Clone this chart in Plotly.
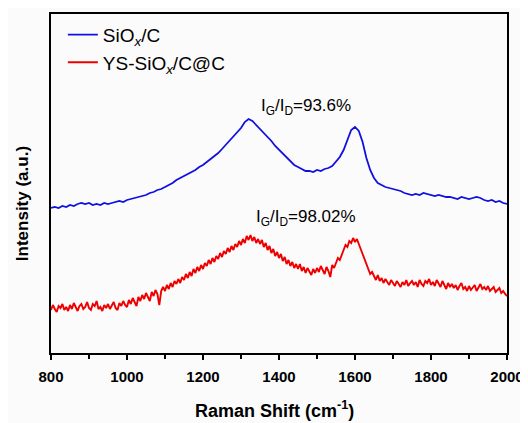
import plotly.graph_objects as go

# Raman shift grids (cm^-1)
shift_blue = list(range(800, 2001, 10))
shift_red = list(range(800, 2001, 5))

sio_c = [
    145, 146, 145, 147, 146, 148, 147, 149, 150, 149,
    150, 148, 149, 148, 150, 149, 150, 151, 152, 151,
    153, 154, 155, 156, 157, 158, 160, 161, 163, 164,
    166, 168, 170, 173, 175, 177, 179, 181, 183, 186,
    188, 191, 194, 197, 200, 204, 208, 212, 216, 220,
    225, 231, 234, 232, 228, 225, 221, 216, 212, 207,
    203, 199, 195, 191, 188, 186, 184, 182, 182, 181,
    183, 182, 184, 185, 187, 191, 196, 203, 214, 223,
    226, 222, 211, 195, 183, 175, 170, 168, 166, 165,
    164, 163, 162, 160, 159, 158, 159, 158, 160, 159,
    158, 157, 158, 157, 156, 156, 155, 154, 156, 155,
    154, 155, 156, 155, 153, 152, 153, 151, 152, 150,
    149,
]

ys_sio_c_c = [
    43, 48, 44, 41, 47, 45, 49, 43, 46, 42,
    48, 44, 50, 45, 42, 47, 49, 44, 46, 51,
    45, 43, 49, 47, 52, 44, 46, 42, 48, 45,
    49, 44, 47, 51, 45, 43, 50, 47, 52, 48,
    46, 53, 49, 55, 51, 47, 56, 52, 58, 54,
    60, 55, 52, 61, 57, 63, 59, 48, 62, 66,
    62, 68, 64, 70, 66, 72, 69, 74, 70, 76,
    73, 79, 75, 81, 77, 84, 80, 86, 82, 88,
    84, 90, 87, 93, 89, 95, 91, 97, 94, 100,
    96, 102, 99, 105, 101, 107, 103, 109, 106, 112,
    108, 114, 110, 117, 113, 118, 112, 116, 110, 114,
    109, 113, 106, 110, 103, 107, 100, 104, 97, 101,
    95, 99, 92, 96, 89, 93, 87, 91, 85, 89,
    84, 89, 82, 86, 80, 85, 81, 78, 84, 80,
    85, 81, 87, 83, 79, 86, 82, 76, 88, 85,
    91, 95, 93, 99, 103, 108, 106, 112, 110, 115,
    111, 114, 108, 104, 99, 94, 88, 84, 79, 81,
    76, 73, 78, 72, 75, 70, 74, 71, 68, 73,
    70, 67, 72, 69, 66, 71, 68, 73, 67, 70,
    72, 68, 71, 66, 73, 69, 67, 72, 70, 74,
    68, 71, 67, 73, 69, 66, 72, 68, 64, 70,
    66, 69, 65, 68, 63, 67, 70, 64, 66, 62,
    67, 63, 66, 68, 62, 65, 69, 64, 66, 63,
    67, 62, 64, 66, 61, 63, 65, 60, 62, 59,
    57,
]

x_ticks = [800, 1000, 1200, 1400, 1600, 1800, 2000]

FONT = "Liberation Sans, Arial, sans-serif"
BG = "#fbfbfb"

fig = go.Figure()
fig.add_trace(go.Scatter(
    x=shift_blue, y=sio_c, mode="lines",
    name="SiO<sub><i>x</i></sub>/C",
    line=dict(color="#1010e0", width=1.8),
))
fig.add_trace(go.Scatter(
    x=shift_red, y=ys_sio_c_c, mode="lines",
    name="YS-SiO<sub><i>x</i></sub>/C@C",
    line=dict(color="#ee0000", width=1.9),
))

fig.update_layout(
    width=520, height=415,
    margin=dict(l=43, r=21, t=6, b=70),
    paper_bgcolor=BG,
    plot_bgcolor=BG,
    font=dict(family=FONT, color="black"),
    showlegend=True,
    legend=dict(
        x=0.026, y=0.995, xanchor="left", yanchor="top",
        bgcolor="rgba(0,0,0,0)",
        font=dict(size=19, family=FONT),
        tracegroupgap=0,
    ),
    xaxis=dict(
        range=[800, 2000],
        tickvals=x_ticks,
        ticks="outside", ticklen=5, tickwidth=1.5, tickcolor="black",
        ticklabelstandoff=4,
        minor=dict(dtick=100, tick0=800, ticks="outside", ticklen=4,
                   tickwidth=1.5, tickcolor="black"),
        showline=True, linecolor="black", linewidth=2, mirror=True,
        showgrid=False, zeroline=False, automargin=False,
        tickfont=dict(size=15, family=FONT, weight="bold"),
    ),
    yaxis=dict(
        range=[0, 339],
        showticklabels=False, ticks="",
        showline=True, linecolor="black", linewidth=2, mirror=True,
        showgrid=False, zeroline=False, automargin=False,
    ),
    annotations=[
        dict(text="Raman Shift (cm<sup>-1</sup>)", xref="paper", yref="paper",
             x=0.49, y=-0.168, showarrow=False,
             xanchor="center", yanchor="middle",
             font=dict(size=18, family=FONT, weight="bold")),
        dict(text="Intensity (a.u.)", xref="paper", yref="paper",
             x=-0.0636, y=0.442, textangle=-90, showarrow=False,
             xanchor="center", yanchor="middle",
             font=dict(size=17, family=FONT, weight="bold")),
        dict(text="I<sub>G</sub>/I<sub>D</sub>=93.6%", xref="x", yref="y",
             x=1471, y=246, showarrow=False,
             font=dict(size=17, family=FONT)),
        dict(text="I<sub>G</sub>/I<sub>D</sub>=98.02%", xref="x", yref="y",
             x=1471, y=135, showarrow=False,
             font=dict(size=17, family=FONT)),
    ],
)

fig.write_html("out.html")
